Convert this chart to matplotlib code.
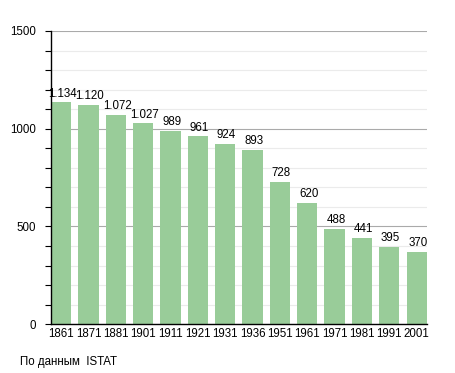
import matplotlib
matplotlib.use("Agg")
import matplotlib.pyplot as plt
from matplotlib.ticker import MultipleLocator

plt.rcParams["font.family"] = ["Liberation Sans", "DejaVu Sans"]

years = ["1861", "1871", "1881", "1901", "1911", "1921", "1931",
         "1936", "1951", "1961", "1971", "1981", "1991", "2001"]
population = [1134, 1120, 1072, 1027, 989, 961, 924, 893, 728, 620, 488, 441, 395, 370]
value_labels = ["1.134", "1.120", "1.072", "1.027", "989", "961", "924",
                "893", "728", "620", "488", "441", "395", "370"]

fig = plt.figure(figsize=(4.55, 3.73), dpi=100)
ax = fig.add_axes([0.112, 0.131, 0.826, 0.786])

x = range(len(years))
ax.bar(x, population, width=0.74, color="#99cc99", zorder=3)
for i, (v, lab) in enumerate(zip(population, value_labels)):
    ax.text(i + 0.05, v + 14, lab, ha="center", va="bottom", fontsize=8.3, zorder=4)

ax.set_xlim(-0.37, len(years) - 0.63)
ax.set_ylim(0, 1500)
ax.set_xticks(list(x))
ax.set_xticklabels(years, fontsize=8.3)
ax.tick_params(axis="x", length=0, pad=3)

ax.yaxis.set_major_locator(MultipleLocator(500))
ax.yaxis.set_minor_locator(MultipleLocator(100))
ax.tick_params(axis="y", which="major", labelsize=8.3, length=4, width=0.8, pad=7)
ax.tick_params(axis="y", which="minor", length=4, width=0.8)
ax.grid(True, axis="y", which="major", color="#aaaaaa", linewidth=0.8, zorder=0)
ax.grid(True, axis="y", which="minor", color="#ebebeb", linewidth=0.8, zorder=0)

for s in ("top", "right"):
    ax.spines[s].set_visible(False)
ax.spines["left"].set_linewidth(1.0)
ax.spines["bottom"].set_linewidth(1.0)
ax.spines["left"].set_zorder(5)
ax.spines["bottom"].set_zorder(5)

fig.text(20 / 455, 1 - 362 / 373, "По данным  ISTAT", fontsize=8.3, va="center")

fig.savefig("out.png", dpi=100)
